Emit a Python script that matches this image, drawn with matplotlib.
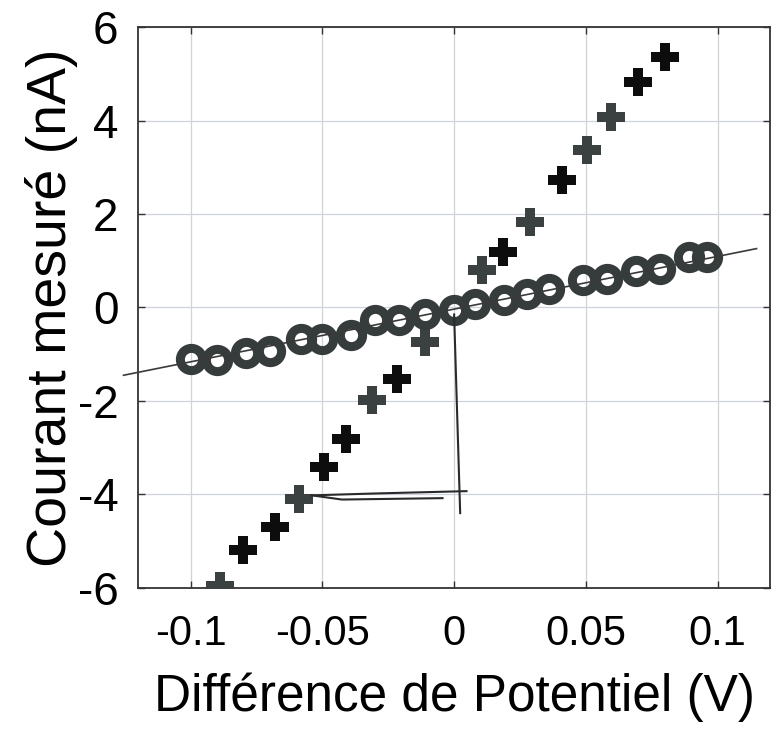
import numpy as np
import matplotlib
matplotlib.use('Agg')
import matplotlib.pyplot as plt

# Values
# circles: low-slope series
circle_v = [-0.100, -0.090, -0.079, -0.070, -0.058, -0.050, -0.039, -0.030, -0.021, -0.011, 0.000,
            0.008, 0.019, 0.0275, 0.036, 0.049, 0.058, 0.069, 0.078, 0.089, 0.096]
circle_i = [-1.10, -1.13, -0.97, -0.93, -0.68, -0.68, -0.58, -0.26, -0.26, -0.13, -0.05,
            0.08, 0.15, 0.29, 0.40, 0.58, 0.61, 0.79, 0.83, 1.08, 1.09]

# crosses: steep series (printed in two tones on the scan)
cross_black_v = [-0.080, -0.068, -0.0495, -0.041, -0.0216, 0.0185, 0.0408, 0.0697, 0.080]
cross_black_i = [-5.18, -4.70, -3.42, -2.82, -1.53, 1.18, 2.72, 4.82, 5.37]
cross_grey_v = [-0.0887, -0.059, -0.031, -0.011, 0.0106, 0.0288, 0.0505, 0.0596]
cross_grey_i = [-5.95, -4.09, -1.99, -0.74, 0.80, 1.82, 3.37, 4.08]

# ruled fit line through the circles (ends)
fit_v = [-0.1255, 0.1148]
fit_i = [-1.45, 1.26]

# pen marks on the print
pen_vert_v = [0.0000, 0.0010, 0.0023]
pen_vert_i = [-0.15, -2.0, -4.40]
pen_h1_v = [-0.054, -0.030, 0.0047]
pen_h1_i = [-4.02, -3.98, -3.93]
pen_h2_v = [-0.054, -0.0426, -0.0044]
pen_h2_i = [-4.02, -4.11, -4.08]

xticks = [-0.1, -0.05, 0, 0.05, 0.1]
xticklabels = ['-0.1', '-0.05', '0', '0.05', '0.1']
yticks = [-6, -4, -2, 0, 2, 4, 6]
yticklabels = ['-6', '-4', '-2', '0', '2', '4', '6']

plt.rcParams['font.family'] = ['Liberation Sans', 'DejaVu Sans']

fig = plt.figure(figsize=(7.71, 7.33), dpi=100)
ax = fig.add_axes([0.179, 0.198, 0.820, 0.765])

ax.grid(True, color='#cfd2db', linewidth=0.9)
ax.set_axisbelow(True)

ax.plot(cross_grey_v, cross_grey_i, linestyle='none', marker='P', markersize=20,
        markeredgewidth=0, color='#3b4141', zorder=3)
ax.plot(cross_black_v, cross_black_i, linestyle='none', marker='P', markersize=20,
        markeredgewidth=0, color='#0d0d0d', zorder=3)
ax.plot(circle_v, circle_i, linestyle='none', marker='o', markersize=16,
        markerfacecolor='none', markeredgecolor='#363c3c', markeredgewidth=6.5, zorder=4)

ax.plot(fit_v, fit_i, color='#3a3a3a', linewidth=1.2, zorder=5, clip_on=False)
for vx, vy in [(pen_vert_v, pen_vert_i), (pen_h1_v, pen_h1_i), (pen_h2_v, pen_h2_i)]:
    ax.plot(vx, vy, color='#2a2a2a', linewidth=1.5, zorder=5)

ax.set_xlim(-0.12, 0.12)
ax.set_ylim(-6, 6)
ax.set_xticks(xticks)
ax.set_xticklabels(xticklabels)
ax.set_yticks(yticks)
ax.set_yticklabels(yticklabels)
ax.tick_params(direction='in', length=5, width=1, color='#333333',
               top=True, right=True)
ax.tick_params(axis='x', labelsize=30, pad=19)
ax.tick_params(axis='y', labelsize=33, pad=14)
for s in ax.spines.values():
    s.set_color('#333333')
    s.set_linewidth(1.3)

ax.set_xlabel('Différence de Potentiel (V)', fontsize=37, labelpad=13)
ax.set_ylabel('Courant mesuré (nA)', fontsize=40, labelpad=0)

fig.savefig('out.png', dpi=100)
